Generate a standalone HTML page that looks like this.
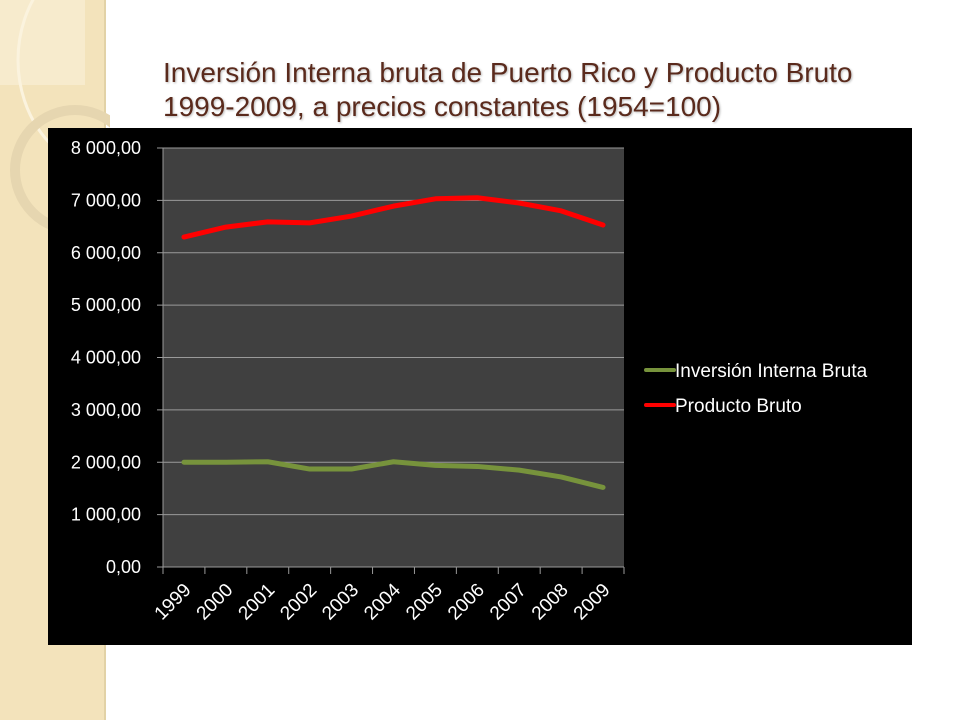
<!DOCTYPE html>
<html><head><meta charset="utf-8"><style>
body{margin:0;width:960px;height:720px;background:#fff;position:relative;overflow:hidden;font-family:"Liberation Sans",sans-serif}
</style></head><body>
<div style="position:absolute;left:0;top:0;width:104px;height:720px;background:#f3e3bb;border-right:2px solid #e2d2a6"></div>
<svg width="110" height="720" style="position:absolute;left:0;top:0">
<rect x="0" y="0" width="85" height="85" fill="#f8eed4" opacity="0.7"/>
<ellipse cx="110" cy="60" rx="92" ry="110" fill="none" stroke="#fbf3de" stroke-width="3"/>
<circle cx="75" cy="170" r="60" fill="none" stroke="#e6d6b0" stroke-width="10"/>
</svg>
<div style="position:absolute;left:163px;top:56px;font-size:28px;line-height:34px;color:#5a2a1c;text-shadow:1px 1px 2px #bbb;white-space:nowrap">Inversión Interna bruta de Puerto Rico y Producto Bruto<br>1999-2009, a precios constantes (1954=100)</div>
<svg id="chart" width="864" height="517" style="position:absolute;left:48px;top:128px" font-family="Liberation Sans, sans-serif"></svg>
<script>
const years=["1999","2000","2001","2002","2003","2004","2005","2006","2007","2008","2009"];
const inversion=[2000,2000,2010,1870,1870,2010,1940,1920,1850,1720,1520];
const producto=[6300,6490,6590,6570,6700,6890,7030,7050,6950,6800,6530];
const yTicks=[0,1000,2000,3000,4000,5000,6000,7000,8000];
const yLabels=["0,00","1 000,00","2 000,00","3 000,00","4 000,00","5 000,00","6 000,00","7 000,00","8 000,00"];
const NS="http://www.w3.org/2000/svg";
const svg=document.getElementById('chart');
const X0=115,X1=576,Y0=439,Y1=20;
const step=(X1-X0)/years.length;
const xs=i=>X0+step*(i+0.5);
const ys=v=>Y0-(v/8000)*(Y0-Y1);
function el(t,a){const e=document.createElementNS(NS,t);for(const k in a)e.setAttribute(k,a[k]);svg.appendChild(e);return e;}
const bg=el('rect',{x:0,y:0,width:864,height:517,fill:'#000'});


const pa=el('rect',{x:X0,y:Y1,width:X1-X0,height:Y0-Y1,fill:'#404040'});


yTicks.forEach((v,i)=>{
 const g=el('line',{x1:X0-6,x2:X1,y1:ys(v),y2:ys(v),stroke:'#9a9a9a','stroke-width':1});
 
 
 const t=el('text',{x:X0-22,y:ys(v)+6,fill:'#fff','font-size':18,'text-anchor':'end'});
 t.textContent=yLabels[i];
 
 
});
el('line',{x1:X0,x2:X0,y1:Y1,y2:Y0,stroke:'#9a9a9a'});
for(let i=0;i<=years.length;i++){
 const tk=el('line',{x1:X0+step*i,x2:X0+step*i,y1:Y0,y2:Y0+7,stroke:'#9a9a9a'});
 
 
}
years.forEach((y,i)=>{
 const x=xs(i)+8,yy=Y0+24;
 const t=el('text',{x:x,y:yy,fill:'#fff','font-size':19,'text-anchor':'end',transform:`rotate(-45 ${x} ${yy})`});
 t.textContent=y;
 
 
});
function line(data,color,name){
 const p=el('polyline',{points:data.map((v,i)=>xs(i)+','+ys(v)).join(' '),fill:'none',stroke:color,'stroke-width':5,'stroke-linejoin':'round','stroke-linecap':'round'});
 
 
}
line(inversion,'#77933c','series-inversion-interna-bruta');
line(producto,'#ff0000','series-producto-bruto');
[['Inversión Interna Bruta','#77933c',242],['Producto Bruto','#ff0000',277]].forEach(([n,c,y])=>{
 const l=el('line',{x1:598,x2:626,y1:y,y2:y,stroke:c,'stroke-width':4,'stroke-linecap':'round'});
 
 
 const t=el('text',{x:627,y:y+7,fill:'#fff','font-size':19});
 t.textContent=n;
 
 
});
</script>
</body></html>
